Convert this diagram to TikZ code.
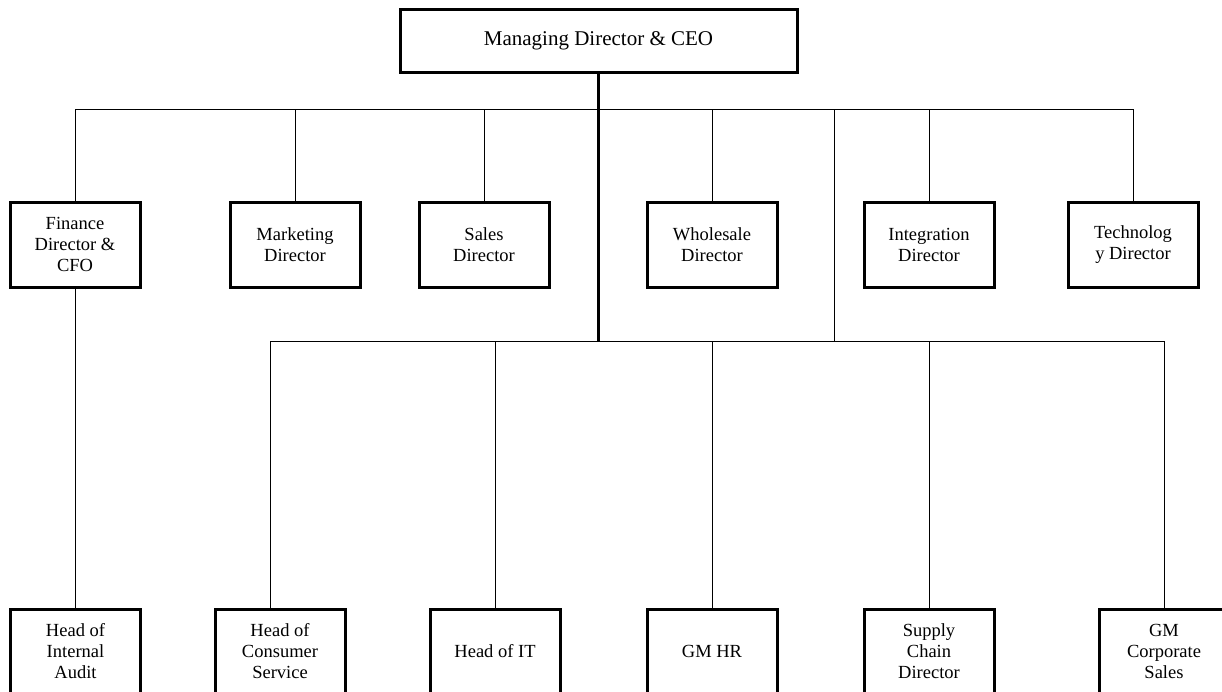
\documentclass[tikz,border=0pt]{standalone}
\usepackage{fontspec}
\setmainfont{Liberation Serif}
\begin{document}
\begin{tikzpicture}[x=1pt,y=-1pt,
  box/.style={draw, line width=3pt, minimum width=130pt, minimum height=85pt, align=center, font=\fontsize{18.5}{21}\selectfont, inner sep=2pt},
  topbox/.style={draw, line width=3pt, minimum width=397pt, minimum height=63pt, font=\fontsize{21}{24}\selectfont},
  conn/.style={line width=1pt},
  trunk/.style={line width=2.5pt}]
\useasboundingbox (0,0) rectangle (1222,691);
\clip (0,0) rectangle (1222,691);
% top
\node[topbox] (ceo) at (598.5,40.5) {Managing Director \& CEO};
% second row
\node[box] (fin) at (75,244.5) {Finance\\Director \&\\CFO};
\node[box] (mkt) at (295,244.5) {Marketing\\Director};
\node[box] (sal) at (484,244.5) {Sales\\Director};
\node[box] (whl) at (712,244.5) {Wholesale\\Director};
\node[box] (int) at (929,244.5) {Integration\\Director};
\node[box] (tec) at (1133,244.5) {Technolog\\y Director};
% bottom row
\node[box] (aud) at (75.5,651.5) {Head of\\Internal\\Audit};
\node[box] (hcs) at (280,651.5) {Head of\\Consumer\\Service};
\node[box] (hit) at (495,651.5) {Head of IT};
\node[box] (ghr) at (712,651.5) {GM HR};
\node[box] (scd) at (929,651.5) {Supply\\Chain\\Director};
\node[box] (gmc) at (1164,651.5) {GM\\Corporate\\Sales};
% bus coordinates
\coordinate (b1) at (598.5,109);
\coordinate (b2) at (598.5,341);
\coordinate (b3) at (834,109);
\coordinate (d1) at (270,341);
% connectors
\draw[trunk] (ceo.south) -- (b1);
\draw[conn] (fin.north |- b1) -- (tec.north |- b1);
\foreach \n in {fin,mkt,sal,whl,int,tec} \draw[conn] (\n.north |- b1) -- (\n.north);
\draw[trunk] (b1) -- (b2);
\draw[conn] (b3) -- (b3 |- b2);
\draw[conn] (d1) -- (gmc.north |- b2);
\draw[conn] (d1) -- (d1 |- hcs.north);
\foreach \n in {hit,ghr,scd,gmc} \draw[conn] (\n.north |- b2) -- (\n.north);
\draw[conn] (fin.south) -- (fin.south |- aud.north);
\end{tikzpicture}
\end{document}
